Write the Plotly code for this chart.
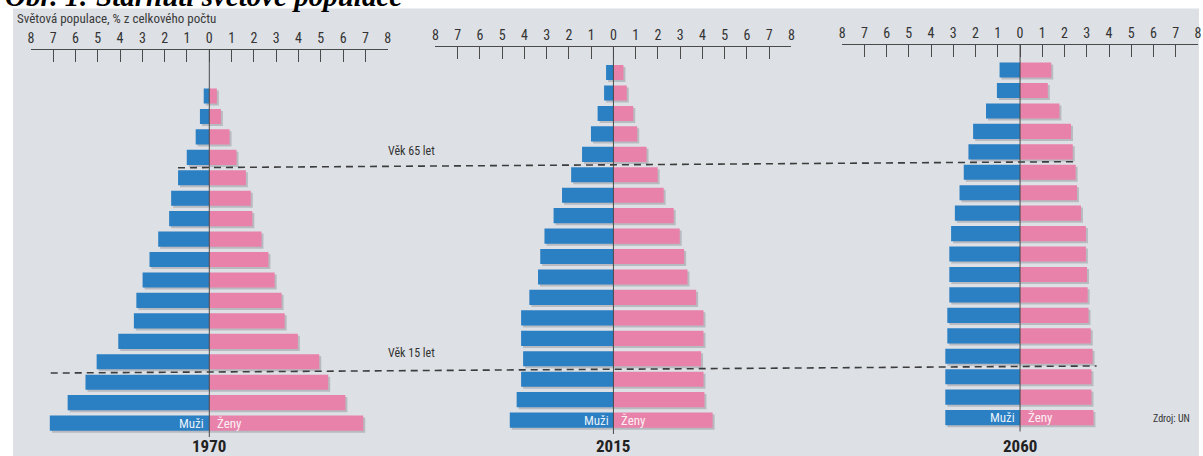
import plotly.graph_objects as go

# Age groups, bottom (youngest) to top (oldest)
age_groups = ["0–4", "5–9", "10–14", "15–19", "20–24", "25–29", "30–34", "35–39",
              "40–44", "45–49", "50–54", "55–59", "60–64", "65–69", "70–74",
              "75–79", "80–84", "85+"]

years = ["1970", "2015", "2060"]

# Share of world population (%), bottom to top
men_1970 = [7.15, 6.35, 5.55, 5.05, 4.08, 3.38, 3.27, 2.99, 2.68, 2.29, 1.80, 1.71,
            1.40, 1.01, 0.61, 0.42, 0.25, None]
women_1970 = [6.90, 6.10, 5.33, 4.93, 3.97, 3.38, 3.24, 2.93, 2.65, 2.34, 1.93, 1.86,
              1.64, 1.22, 0.91, 0.52, 0.34, None]

men_2015 = [4.66, 4.35, 4.15, 4.06, 4.15, 4.15, 3.78, 3.39, 3.29, 3.10, 2.69, 2.31,
            1.90, 1.41, 1.01, 0.71, 0.42, 0.33]
women_2015 = [4.46, 4.09, 4.05, 3.94, 4.05, 4.05, 3.72, 3.33, 3.18, 2.98, 2.71, 2.26,
              1.99, 1.49, 1.07, 0.89, 0.60, 0.45]

men_2060 = [3.36, 3.36, 3.36, 3.36, 3.27, 3.27, 3.18, 3.18, 3.18, 3.10, 2.93, 2.72,
            2.53, 2.32, 2.11, 1.53, 1.04, 0.92]
women_2060 = [3.30, 3.21, 3.21, 3.26, 3.18, 3.08, 3.04, 3.01, 2.96, 2.96, 2.74, 2.56,
              2.50, 2.37, 2.29, 1.77, 1.25, 1.40]

tick_vals = list(range(-8, 9))
tick_text = [str(abs(v)) for v in tick_vals]

men = [men_1970, men_2015, men_2060]
women = [women_1970, women_2015, women_2060]

W, H = 1203, 456
BLUE = "#2b7fc3"
PINK = "#e982aa"
BG = "#dde0e5"
INK = "#333333"
NARROW = "Liberation Sans Narrow, Roboto Condensed, DejaVu Sans Condensed, Arial Narrow, sans-serif"

Y_RANGE = [-0.68, 18.25]
# pixel boxes of the three pyramids: (left, right, top, bottom)
boxes = [(28, 387, 50, 437), (435, 793, 47, 434), (844, 1202, 44.5, 431.5)]


def px_x(p):
    return min(max(p / W, 0.0), 1.0)


def px_y(p):
    return min(max(1 - p / H, 0.0), 1.0)


fig = go.Figure()
layout = dict(
    width=W, height=H, autosize=False,
    margin=dict(l=0, r=0, t=0, b=0),
    paper_bgcolor="white", plot_bgcolor="rgba(0,0,0,0)",
    showlegend=False, barmode="overlay",
    font=dict(family=NARROW, color=INK),
)

# shadow subplots (1-3) sit beneath the visible pyramids (4-6)
for k in range(6):
    i = k % 3
    shadow = k < 3
    l, r, t, b = boxes[i]
    dx, dy = (2, 2) if shadow else (0, 0)
    xname = "xaxis" if k == 0 else f"xaxis{k + 1}"
    yname = "yaxis" if k == 0 else f"yaxis{k + 1}"
    xa = "x" if k == 0 else f"x{k + 1}"
    ya = "y" if k == 0 else f"y{k + 1}"
    x_lo, x_hi = px_x(l + dx), px_x(r + dx)
    x_range = [-8, 8]
    if shadow and r + dx > W:
        # keep the same scale when the shifted box runs past the page edge
        x_hi = 1.0
        x_range = [-8, 8 - (r + dx - W) * 16 / (r - l)]
    layout[xname] = dict(
        domain=[x_lo, x_hi], range=x_range, anchor=ya,
        side="top", fixedrange=True, showgrid=False, zeroline=False,
    )
    layout[yname] = dict(
        domain=[px_y(b + dy), px_y(t + dy)], range=Y_RANGE, anchor=xa,
        type="category", categoryorder="array", categoryarray=age_groups,
        visible=False, fixedrange=True,
    )
    if shadow:
        layout[xname]["visible"] = False
    else:
        layout[xname].update(
            showline=True, linecolor="#4a4a4a", linewidth=1,
            ticks="inside", ticklen=12, tickcolor="#4a4a4a", tickwidth=1,
            tickvals=tick_vals, ticktext=tick_text,
            tickfont=dict(size=14, color=INK, family=NARROW),
        )
    m_vals = [None if v is None else -v for v in men[i]]
    f_vals = women[i]
    if shadow:
        c_m = c_f = "rgba(90,90,100,0.28)"
    else:
        c_m, c_f = BLUE, PINK
    fig.add_trace(go.Bar(y=age_groups, x=m_vals, orientation="h", width=0.74,
                         marker=dict(color=c_m, line=dict(width=0)),
                         xaxis=xa, yaxis=ya, hoverinfo="skip"))
    fig.add_trace(go.Bar(y=age_groups, x=f_vals, orientation="h", width=0.74,
                         marker=dict(color=c_f, line=dict(width=0)),
                         xaxis=xa, yaxis=ya, hoverinfo="skip"))

fig.update_layout(**layout)

shapes = [
    # printed grey panel
    dict(type="rect", xref="paper", yref="paper", x0=px_x(10), x1=1.0,
         y0=0, y1=px_y(8.5), fillcolor=BG, line=dict(width=0), layer="below"),
]

# centre lines of the pyramids
for i in range(3):
    shapes.append(dict(type="line", xref=f"x{i + 4}", yref=f"y{i + 4} domain",
                       x0=0, x1=0, y0=0, y1=1,
                       line=dict(color="#4a4a4a", width=1), layer="above"))


def row_px(x_px, yval):
    """pixel height of a data row, following the slight tilt of the panels"""
    l, r, t, b = boxes[0]
    c0 = (l + r) / 2
    slope = ((boxes[2][2] - boxes[0][2]) / ((boxes[2][0] + boxes[2][1]) / 2 - c0))
    frac = (yval - Y_RANGE[0]) / (Y_RANGE[1] - Y_RANGE[0])
    return b - frac * (b - t) + (x_px - c0) * slope


# age thresholds: 65 (between 60–64 and 65–69) and 15 (between 10–14 and 15–19)
for x0p, x1p, yv in [(176, 1077, 12.5), (48, 1100, 2.5)]:
    shapes.append(dict(type="line", xref="paper", yref="paper",
                       x0=px_x(x0p), x1=px_x(x1p),
                       y0=px_y(row_px(x0p, yv)), y1=px_y(row_px(x1p, yv)),
                       line=dict(color="#3c3c3c", width=1.6, dash="7px,5px"),
                       layer="above"))

annotations = [
    dict(text="Obr. 1: Stárnutí světové populace", xref="paper", yref="paper",
         x=0, y=px_y(14), xanchor="left", yanchor="bottom", showarrow=False,
         font=dict(family="Liberation Serif, Times New Roman, serif", size=29,
                   color="black", weight="bold", style="italic")),
    dict(text="Světová populace, % z celkového počtu", xref="paper", yref="paper",
         x=px_x(12), y=px_y(19), xanchor="left", yanchor="middle", showarrow=False,
         font=dict(size=13, color="#3a3a3a")),
    dict(text="Věk 65 let", xref="paper", yref="paper", x=px_x(385), y=px_y(151),
         xanchor="left", yanchor="middle", showarrow=False,
         font=dict(size=12, color=INK)),
    dict(text="Věk 15 let", xref="paper", yref="paper", x=px_x(385), y=px_y(353),
         xanchor="left", yanchor="middle", showarrow=False,
         font=dict(size=12, color=INK)),
    dict(text="Zdroj: UN", xref="paper", yref="paper", x=px_x(1155), y=px_y(418),
         xanchor="left", yanchor="middle", showarrow=False,
         font=dict(size=10, color=INK)),
]

for i, yr in enumerate(years):
    xa, ya = f"x{i + 4}", f"y{i + 4}"
    annotations.append(dict(text="Muži", xref=xa, yref=ya, x=-0.13, y=age_groups[0],
                            xanchor="right", yanchor="middle", showarrow=False,
                            font=dict(size=13, color="rgba(255,255,255,0.9)")))
    annotations.append(dict(text="Ženy", xref=xa, yref=ya, x=0.27, y=age_groups[0],
                            xanchor="left", yanchor="middle", showarrow=False,
                            font=dict(size=13, color="rgba(255,255,255,0.9)")))
    annotations.append(dict(text=f"<b>{yr}</b>", xref=xa, yref="paper", x=0,
                            y=px_y(446), xanchor="center", yanchor="middle",
                            showarrow=False, font=dict(size=17, color="#222222")))

fig.update_layout(shapes=shapes, annotations=annotations)
fig.write_html("out.html")
